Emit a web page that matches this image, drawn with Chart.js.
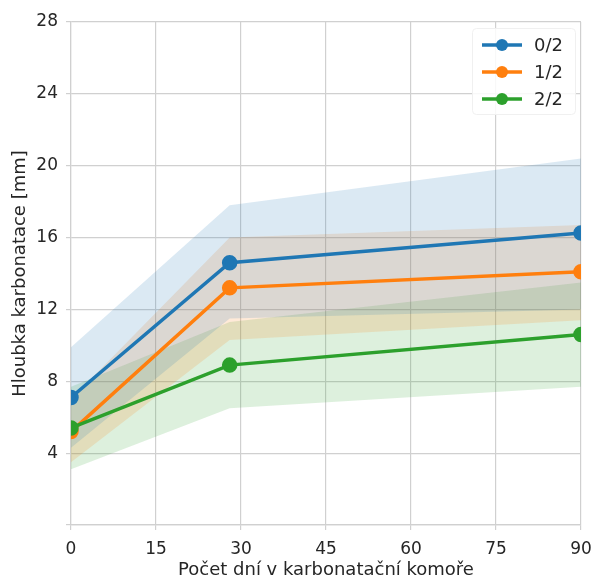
<!DOCTYPE html>
<html>
<head>
<meta charset="utf-8">
<script src="https://cdn.jsdelivr.net/npm/chart.js@4.4.1/dist/chart.umd.min.js"></script>
<style>
  html, body { margin: 0; padding: 0; background: #fff; }
  #wrap { width: 593px; height: 581px; position: relative; }
</style>
</head>
<body>
<div id="wrap"><canvas id="chart"></canvas></div>
<script>
// days in the carbonation chamber
const days = [0, 28, 90];

const seriesNames = ["0/2", "1/2", "2/2"];
const seriesColors = ["#1f77b4", "#ff7f0e", "#2ca02c"];

// mean carbonation depth [mm]
const mean02 = [7.1, 14.6, 16.25];
const mean12 = [5.2, 13.2, 14.1];
const mean22 = [5.4, 8.9, 10.6];

// spread band (lower / upper)
const low02 = [4.3, 11.5, 12.0];
const high02 = [9.9, 17.8, 20.4];
const low12 = [3.5, 10.3, 11.4];
const high12 = [7.0, 16.0, 16.7];
const low22 = [3.1, 6.5, 7.7];
const high22 = [7.7, 11.3, 13.5];

const xTicks = [0, 15, 30, 45, 60, 75, 90];
const yTicks = [4, 8, 12, 16, 20, 24, 28];

const FONT = "'DejaVu Sans', sans-serif";

function pts(vals) {
  return vals.map((v, i) => ({ x: days[i], y: v }));
}

function alpha(hex, a) {
  const n = parseInt(hex.slice(1), 16);
  return `rgba(${(n >> 16) & 255}, ${(n >> 8) & 255}, ${n & 255}, ${a})`;
}

const means = [mean02, mean12, mean22];
const lows = [low02, low12, low22];
const highs = [high02, high12, high22];

const datasets = [];
// bands first: low, then high filled to the low one
for (let i = 0; i < 3; i++) {
  const lowIndex = datasets.length;
  datasets.push({
    label: "low " + seriesNames[i],
    data: pts(lows[i]),
    borderWidth: 0,
    pointRadius: 0,
    fill: false,
    order: 10,
  });
  datasets.push({
    label: "high " + seriesNames[i],
    data: pts(highs[i]),
    borderWidth: 0,
    pointRadius: 0,
    backgroundColor: alpha(seriesColors[i], 0.16),
    fill: { target: lowIndex },
    order: 10,
  });
}
for (let i = 0; i < 3; i++) {
  datasets.push({
    label: seriesNames[i],
    data: pts(means[i]),
    borderColor: seriesColors[i],
    backgroundColor: seriesColors[i],
    borderWidth: 3.5,
    pointRadius: 6,
    pointHoverRadius: 6,
    fill: false,
    order: 1 + (2 - i),
  });
}

const legendPlugin = {
  id: "boxLegend",
  afterDraw(chart) {
    const ctx = chart.ctx;
    const area = chart.chartArea;
    const x0 = area.right - 109, y0 = area.top + 6, w = 103, h = 86;
    ctx.save();
    ctx.fillStyle = "rgba(255,255,255,0.85)";
    ctx.strokeStyle = "#f0f0f0";
    ctx.lineWidth = 1;
    ctx.beginPath();
    ctx.roundRect(x0 + 0.5, y0 + 0.5, w, h, 4);
    ctx.fill();
    ctx.stroke();
    ctx.font = "18px " + FONT;
    ctx.textBaseline = "middle";
    seriesNames.forEach((name, i) => {
      const cy = y0 + 17 + i * 27;
      ctx.strokeStyle = seriesColors[i];
      ctx.fillStyle = seriesColors[i];
      ctx.lineWidth = 3.5;
      ctx.beginPath();
      ctx.moveTo(x0 + 10, cy);
      ctx.lineTo(x0 + 50, cy);
      ctx.stroke();
      ctx.beginPath();
      ctx.arc(x0 + 30, cy, 6, 0, Math.PI * 2);
      ctx.fill();
      ctx.fillStyle = "#262626";
      ctx.fillText(name, x0 + 62, cy + 1);
    });
    ctx.restore();
  },
};

new Chart(document.getElementById("chart"), {
  type: "line",
  data: { datasets: datasets },
  plugins: [legendPlugin],
  options: {
    responsive: true,
    maintainAspectRatio: false,
    animation: false,
    layout: { padding: { top: 22, right: 12, left: 10, bottom: 0 } },
    plugins: {
      legend: { display: false },
      tooltip: { enabled: false },
      filler: { propagate: false },
    },
    scales: {
      x: {
        type: "linear",
        min: 0,
        max: 90,
        afterBuildTicks: (scale) => { scale.ticks = xTicks.map((v) => ({ value: v })); },
        afterFit: (scale) => {
          scale.height = 56;
          scale.paddingLeft = 0;
          scale.paddingRight = 0;
        },
        grid: { color: "#d0d0d0", lineWidth: 1.2, tickLength: 5, tickColor: "#d0d0d0" },
        border: { color: "#d0d0d0", width: 1.2 },
        ticks: { color: "#262626", font: { family: FONT, size: 17 }, padding: 9, maxRotation: 0 },
        title: {
          display: true,
          text: "Počet dní v karbonatační komoře",
          color: "#262626",
          font: { family: FONT, size: 18 },
          padding: { top: 0, bottom: 0 },
        },
      },
      y: {
        min: 0,
        max: 28,
        afterBuildTicks: (scale) => { scale.ticks = [0].concat(yTicks).map((v) => ({ value: v })); },
        afterFit: (scale) => {
          scale.width = 61;
          scale.paddingTop = 0;
          scale.paddingBottom = 0;
        },
        grid: { color: "#d0d0d0", lineWidth: 1.2, tickLength: 5, tickColor: "#d0d0d0" },
        border: { color: "#d0d0d0", width: 1.2 },
        ticks: {
          color: "#262626",
          font: { family: FONT, size: 17 },
          padding: 8,
          callback: (v) => (yTicks.includes(v) ? String(v) : ""),
        },
        title: {
          display: true,
          text: "Hloubka karbonatace [mm]",
          color: "#262626",
          font: { family: FONT, size: 18 },
          padding: { top: 0, bottom: 2 },
        },
      },
    },
  },
});
</script>
</body>
</html>
